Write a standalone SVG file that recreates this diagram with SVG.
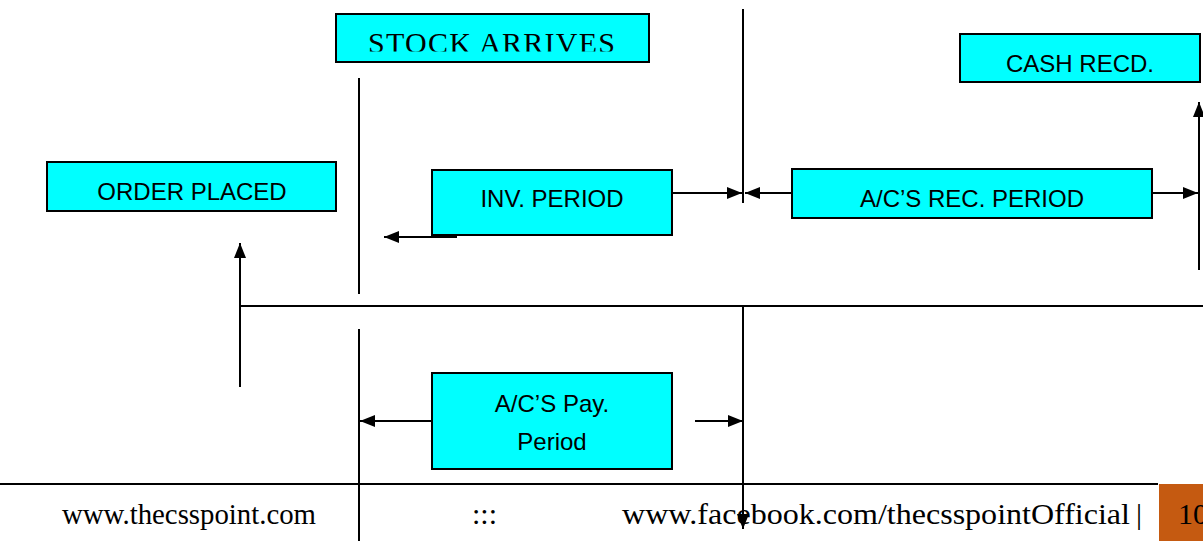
<svg xmlns="http://www.w3.org/2000/svg" width="1203" height="541" viewBox="0 0 1203 541">
<style>
.box{fill:#00FFFF;stroke:#000;stroke-width:2}
.lbl{font-family:"Liberation Sans",Arial,sans-serif;font-size:24px;fill:#000;text-anchor:middle}
.ln{stroke:#000;stroke-width:2;fill:none}
.arr{stroke:#000;stroke-width:2;fill:none;marker-end:url(#ah)}
.ft{font-family:"Liberation Serif","Times New Roman",serif;font-size:30px;fill:#000}
</style>
<defs>
<marker id="ah" markerUnits="userSpaceOnUse" markerWidth="16" markerHeight="12" refX="15" refY="6" orient="auto">
<path d="M0,0 L15,6 L0,12 Z" fill="#000"/>
</marker>
<clipPath id="clipStock"><rect x="336" y="14" width="313" height="37.5"/></clipPath>
</defs>
<rect width="1203" height="541" fill="#fff"/>
<g id="connectors">
<line class="ln" x1="359" y1="78" x2="359" y2="294"/>
<line class="ln" x1="359" y1="329" x2="359" y2="541"/>
<line class="ln" x1="240" y1="306" x2="1203" y2="306"/>
<line class="ln" x1="743" y1="9" x2="743" y2="203"/>
<line class="arr" x1="743" y1="306" x2="743" y2="529"/>
<line class="arr" x1="240" y1="387" x2="240" y2="243"/>
<line class="arr" x1="1199" y1="270" x2="1199" y2="102"/>
<line class="arr" x1="457" y1="237" x2="384" y2="237"/>
<line class="arr" x1="672" y1="193" x2="742" y2="193"/>
<line class="arr" x1="792" y1="193" x2="745" y2="193"/>
<line class="arr" x1="1152" y1="193" x2="1198" y2="193"/>
<line class="arr" x1="432" y1="421" x2="360" y2="421"/>
<line class="arr" x1="695" y1="421" x2="743" y2="421"/>
</g>
<g id="stock-arrives">
<rect class="box" x="336" y="14" width="313" height="48"/>
<text x="368" y="53" clip-path="url(#clipStock)" font-family="'Liberation Serif','Times New Roman',serif" font-size="30" textLength="247" lengthAdjust="spacing">STOCK ARRIVES</text>
</g>
<g id="cash-recd">
<rect class="box" x="960" y="34" width="240" height="48"/>
<text class="lbl" x="1080" y="72">CASH RECD.</text>
</g>
<g id="order-placed">
<rect class="box" x="47" y="162" width="289" height="49"/>
<text class="lbl" x="192" y="200">ORDER PLACED</text>
</g>
<g id="inv-period">
<rect class="box" x="432" y="170" width="240" height="65"/>
<text class="lbl" x="552" y="207">INV. PERIOD</text>
</g>
<g id="ac-rec-period">
<rect class="box" x="792" y="169" width="360" height="49"/>
<text class="lbl" x="972" y="207">A/C’S REC. PERIOD</text>
</g>
<g id="ac-pay-period">
<rect class="box" x="432" y="373" width="240" height="96"/>
<text class="lbl" x="552" y="412">A/C’S Pay.</text>
<text class="lbl" x="552" y="450">Period</text>
</g>
<g id="footer">
<line class="ln" x1="0" y1="484" x2="1158" y2="484"/>
<text class="ft" x="62" y="524" textLength="254" lengthAdjust="spacingAndGlyphs">www.thecsspoint.com</text>
<text class="ft" x="472" y="524">:::</text>
<text class="ft" x="622" y="524" textLength="508" lengthAdjust="spacingAndGlyphs">www.facebook.com/thecsspointOfficial</text>
<text class="ft" x="1136" y="524">|</text>
<rect x="1159" y="484" width="44" height="57" fill="#C55A11"/>
<text class="ft" x="1178" y="524" fill="#FDF2E9">10</text>
</g>
</svg>
